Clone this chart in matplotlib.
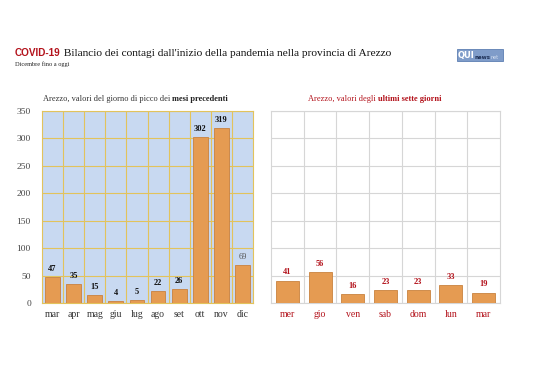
import matplotlib
matplotlib.use("Agg")
import matplotlib.pyplot as plt
from matplotlib.patches import Rectangle

months = ["mar", "apr", "mag", "giu", "lug", "ago", "set", "ott", "nov", "dic"]
month_vals = [47, 35, 15, 4, 5, 22, 26, 302, 319, 69]
days = ["mer", "gio", "ven", "sab", "dom", "lun", "mar"]
day_vals = [41, 56, 16, 23, 23, 33, 19]
yticks = [0, 50, 100, 150, 200, 250, 300, 350]

SERIF = "Liberation Serif"
BAR = "#e59b52"
BAR_EDGE = "#c9823e"
RED = "#b3121b"

fig = plt.figure(figsize=(5.38, 3.8), dpi=100)
fig.patch.set_facecolor("white")

# Left panel
axL = fig.add_axes([42/538, 1-303/380, 211/538, 192/380])
axL.set_facecolor("#c8d9f1")
xL = list(range(len(months)))
axL.bar(xL, month_vals, width=0.7, color=BAR, edgecolor=BAR_EDGE, linewidth=0.6, zorder=3)
axL.set_xlim(-0.5, len(months)-0.5)
axL.set_ylim(0, 350)
axL.set_yticks(yticks)
axL.set_yticklabels([str(v) for v in yticks], fontfamily=SERIF, fontsize=6.8, color="#444444")
axL.set_xticks(xL)
axL.set_xticklabels(months, fontfamily=SERIF, fontsize=7, color="#333333")
axL.set_xticks([i+0.5 for i in xL[:-1]], minor=True)
axL.tick_params(axis="y", length=0, which="both", pad=8)
axL.tick_params(axis="x", length=0, which="both", pad=5)
axL.grid(True, axis="y", color="#e2c35c", linewidth=0.8, zorder=0)
axL.grid(True, axis="x", which="minor", color="#e2c35c", linewidth=0.8, zorder=0)
for s in axL.spines.values():
    s.set_color("#e2c35c")
    s.set_linewidth(0.8)
for i, v in enumerate(month_vals):
    last = i == len(month_vals)-1
    axL.annotate(str(v), (i, v), xytext=(0, 3), textcoords="offset points",
                 ha="center", va="bottom", fontfamily=SERIF, fontsize=6,
                 fontweight="normal" if last else "bold",
                 color="#555555" if last else "#111111", zorder=4)

# Right panel
axR = fig.add_axes([271/538, 1-303/380, 229/538, 192/380])
axR.set_facecolor("white")
xR = list(range(len(days)))
axR.bar(xR, day_vals, width=0.7, color=BAR, edgecolor=BAR_EDGE, linewidth=0.6, zorder=3)
axR.set_xlim(-0.5, len(days)-0.5)
axR.set_ylim(0, 350)
axR.set_yticks(yticks)
axR.set_yticklabels([])
axR.set_xticks(xR)
axR.set_xticklabels(days, fontfamily=SERIF, fontsize=7, color=RED)
axR.set_xticks([i+0.5 for i in xR[:-1]], minor=True)
axR.tick_params(length=0, which="both", pad=5)
axR.grid(True, axis="y", color="#d6d6d6", linewidth=0.8, zorder=0)
axR.grid(True, axis="x", which="minor", color="#d6d6d6", linewidth=0.8, zorder=0)
for s in axR.spines.values():
    s.set_color("#d6d6d6")
    s.set_linewidth(0.8)
for i, v in enumerate(day_vals):
    axR.annotate(str(v), (i, v), xytext=(0, 3), textcoords="offset points",
                 ha="center", va="bottom", fontfamily=SERIF, fontsize=6,
                 fontweight="bold", color=RED, zorder=4)

# Titles
t1 = fig.text(15/538, 1-56/380, "COVID-19", fontfamily="Liberation Sans", fontweight="bold",
              fontsize=7.2, color=RED, va="baseline", ha="left")
plt.annotate(" Bilancio dei contagi dall'inizio della pandemia nella provincia di Arezzo",
             xy=(1, 0), xycoords=t1, va="bottom", ha="left",
             fontfamily=SERIF, fontsize=8.2, color="#111111", annotation_clip=False)
fig.text(15/538, 1-66/380, "Dicembre fino a oggi", fontfamily=SERIF, fontsize=4.6,
         color="#222222", va="baseline", ha="left")

s1 = fig.text(43/538, 1-101/380, "Arezzo, valori del giorno di picco dei ", fontfamily=SERIF,
              fontsize=6, color="#333333", va="baseline", ha="left")
plt.annotate("mesi precedenti", xy=(1, 0), xycoords=s1, va="bottom", ha="left",
             fontfamily=SERIF, fontsize=6, fontweight="bold", color="#222222",
             annotation_clip=False)
s2 = fig.text(308/538, 1-101/380, "Arezzo, valori degli ", fontfamily=SERIF,
              fontsize=6, color=RED, va="baseline", ha="left")
plt.annotate("ultimi sette giorni", xy=(1, 0), xycoords=s2, va="bottom", ha="left",
             fontfamily=SERIF, fontsize=6, fontweight="bold", color=RED,
             annotation_clip=False)

# Logo
logo = Rectangle((457/538, 1-61/380), 46/538, 12/380,
                 transform=fig.transFigure, facecolor="#7f9cc9", edgecolor="#5d7fb3",
                 linewidth=0.6, zorder=-5)
fig.patches.append(logo)
lq = fig.text(458/538, 1-58/380, "QUI", fontfamily="DejaVu Sans", fontweight="bold",
              fontsize=6, color="white", va="baseline", ha="left")
ln = plt.annotate("news", xy=(1, 0), xycoords=lq, va="bottom", ha="left",
                  fontfamily="DejaVu Sans", fontweight="bold", fontsize=4, color="#1d2f55",
                  annotation_clip=False)
plt.annotate("net", xy=(1, 0), xycoords=ln, va="bottom", ha="left",
             fontfamily="DejaVu Sans", fontsize=3.5, color="#d5e0f0",
             annotation_clip=False)

fig.savefig("out.png", dpi=100, facecolor="white")
